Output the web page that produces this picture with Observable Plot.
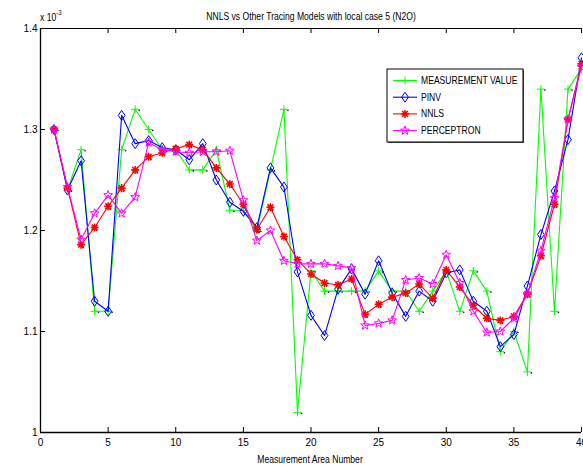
<!DOCTYPE html>
<html><head><meta charset="utf-8">
<script src="https://cdn.jsdelivr.net/npm/d3@7"></script>
<script src="https://cdn.jsdelivr.net/npm/@observablehq/plot@0.6"></script>
<style>
html,body{margin:0;padding:0;background:#fff;}
#chart{position:relative;width:583px;height:468px;overflow:hidden;}
</style></head><body><div id="chart"></div>
<script>
const areaNumbers = d3.range(1, 41);
const measurement = [1.30,1.24,1.28,1.12,1.12,1.28,1.32,1.30,1.28,1.28,
  1.26,1.26,1.28,1.22,1.22,1.20,1.26,1.32,1.02,1.16,
  1.14,1.14,1.14,1.14,1.16,1.14,1.14,1.12,1.14,1.16,
  1.12,1.16,1.14,1.08,1.10,1.06,1.34,1.12,1.34,1.36];
const pinv = [1.300,1.240,1.269,1.130,1.120,1.314,1.286,1.289,1.282,1.280,
  1.270,1.286,1.250,1.228,1.219,1.203,1.262,1.243,1.159,1.116,
  1.096,1.142,1.162,1.137,1.170,1.138,1.115,1.140,1.130,1.158,
  1.161,1.130,1.120,1.085,1.097,1.145,1.196,1.239,1.290,1.371];
const nnls = [1.300,1.242,1.186,1.203,1.224,1.242,1.260,1.273,1.277,1.281,
  1.285,1.280,1.262,1.246,1.226,1.201,1.223,1.194,1.171,1.157,
  1.148,1.146,1.152,1.117,1.127,1.134,1.138,1.147,1.133,1.161,
  1.144,1.126,1.113,1.111,1.115,1.137,1.175,1.226,1.310,1.365];
const perceptron = [1.300,1.243,1.191,1.217,1.235,1.217,1.233,1.287,1.280,1.278,
  1.277,1.278,1.278,1.279,1.230,1.190,1.200,1.170,1.167,1.167,
  1.167,1.165,1.163,1.106,1.108,1.111,1.151,1.153,1.147,1.176,
  1.148,1.120,1.099,1.100,1.113,1.137,1.180,1.232,1.310,1.362];
const seriesNames = ["MEASUREMENT VALUE","PINV","NNLS","PERCEPTRON"];
const seriesColors = ["#00ff00","#0000ff","#ff0000","#ff00ff"];
const xTicks = [0,5,10,15,20,25,30,35,40];
const yTicks = [1,1.1,1.2,1.3,1.4];
const xDomain = [0,40];
const yDomain = [1,1.4];
const titleText = "NNLS vs Other Tracing Models with local case 5 (N2O)";
const xLabelText = "Measurement Area Number";

const FONT = "'Liberation Sans',Arial,sans-serif";
const NARROW = 0.86;

// custom marker symbols (size = r^2 * PI)
const rad = s => Math.sqrt(s / Math.PI);
const plusSym = {draw(c, s){const r = rad(s); c.moveTo(-r,0); c.lineTo(r,0); c.moveTo(0,-r); c.lineTo(0,r);}};
const diamondSym = {draw(c, s){const r = rad(s); c.moveTo(0,-1.25*r); c.lineTo(0.85*r,0); c.lineTo(0,1.25*r); c.lineTo(-0.85*r,0); c.closePath();}};
const asteriskSym = {draw(c, s){const r = rad(s); const d = r*0.72;
  c.moveTo(-r,0); c.lineTo(r,0); c.moveTo(0,-r); c.lineTo(0,r);
  c.moveTo(-d,-d); c.lineTo(d,d); c.moveTo(-d,d); c.lineTo(d,-d);}};
const starSym = {draw(c, s){const R = rad(s)*1.15, ri = R*0.42;
  for (let i = 0; i < 10; i++){const a = -Math.PI/2 + i*Math.PI/5; const rr = i%2 ? ri : R;
    const x = rr*Math.cos(a), y = rr*Math.sin(a); i ? c.lineTo(x,y) : c.moveTo(x,y);} c.closePath();}};
const symbols = [plusSym, diamondSym, asteriskSym, starSym];
const strokeWidths = [1, 1, 1.6, 1];

const allSeries = [measurement, pinv, nnls, perceptron];
const rows = allSeries.map((vals, k) => areaNumbers.map((x, i) => ({x, y: vals[i], k})));

const W = 583, H = 468, mL = 40, mR = 2, mT = 28, mB = 36;
const marks = [];
rows.forEach((data, k) => {
  marks.push(Plot.line(data, {x: "x", y: "y", stroke: seriesColors[k], strokeWidth: 1.1}));
  if (k === 0 || k === 2) marks.push(Plot.dot(data, {x: "x", y: "y", r: 0.8, fill: "black", dx: k === 0 ? 4 : 2, dy: k === 0 ? 1 : 3}));
  marks.push(Plot.dot(data, {x: "x", y: "y", symbol: symbols[k], r: 4, stroke: seriesColors[k], strokeWidth: strokeWidths[k], fill: "none"}));
});

const plotW = W - mL - mR, plotH = H - mT - mB;
const chart = Plot.plot({
  width: W, height: H, marginLeft: mL, marginRight: mR, marginTop: mT, marginBottom: mB,
  style: {fontFamily: FONT, fontSize: "10px", color: "#000", background: "#fff"},
  x: {domain: xDomain, ticks: xTicks},
  y: {domain: yDomain, ticks: yTicks},
  marks: [
    ...marks,
    Plot.ruleY([yDomain[0]], {stroke: "black", strokeWidth: 1.5}),
    Plot.ruleY([yDomain[1]], {stroke: "black", strokeWidth: 1}),
    Plot.ruleX([xDomain[0]], {stroke: "black", strokeWidth: 1.3}),
    Plot.tickX(xTicks, {x: d => d, insetTop: plotH - 5, stroke: "black"}),
    Plot.tickX(xTicks, {x: d => d, insetBottom: plotH - 5, stroke: "black"}),
    Plot.tickY(yTicks, {y: d => d, insetRight: plotW - 5, stroke: "black"}),
    Plot.axisX(xTicks, {tickSize: 0, tickPadding: 6, label: null, fill: "black"}),
    Plot.axisY(yTicks, {tickSize: 0, tickPadding: 3, label: null, fill: "black",
      tickFormat: d => d3.format(".1f")(d).replace(/\.0$/, "")})
  ]
});
document.getElementById("chart").appendChild(chart);

// overlay: title, exponent, x label, legend
const ov = d3.select("#chart").append("svg")
  .attr("width", W).attr("height", H)
  .style("position", "absolute").style("left", "0px").style("top", "0px")
  .style("font-family", FONT).style("font-size", "10px");
function narrowText(x, y, anchor) {
  return ov.append("g").attr("transform", `translate(${x},${y}) scale(${NARROW},1)`)
    .append("text").attr("text-anchor", anchor);
}
narrowText(311, 20, "middle").text(titleText);
const ex = narrowText(40, 21, "start");
ex.append("tspan").text("x 10");
ex.append("tspan").attr("dy", -6).attr("font-size", "7px").text("-3");
narrowText(310, 463, "middle").text(xLabelText);

const lg = ov.append("g");
const bx = 387, by = 69, bw = 136, bh = 73;
lg.append("rect").attr("x", bx + 1).attr("y", by + 1).attr("width", bw).attr("height", bh).attr("fill", "#555");
lg.append("rect").attr("x", bx).attr("y", by).attr("width", bw).attr("height", bh).attr("fill", "white").attr("stroke", "black").attr("stroke-width", 1);
seriesNames.forEach((name, k) => {
  const cy = 80.5 + k * 16.7;
  lg.append("line").attr("x1", 393).attr("x2", 417).attr("y1", cy).attr("y2", cy).attr("stroke", seriesColors[k]).attr("stroke-width", 1.1);
  lg.append("path").attr("transform", `translate(405,${cy})`)
    .attr("d", d3.symbol(symbols[k], 16 * Math.PI)())
    .attr("fill", "none").attr("stroke", seriesColors[k]).attr("stroke-width", strokeWidths[k]);
  narrowText(421, cy, "start").attr("dy", "0.35em").text(name);
});
</script></body></html>
